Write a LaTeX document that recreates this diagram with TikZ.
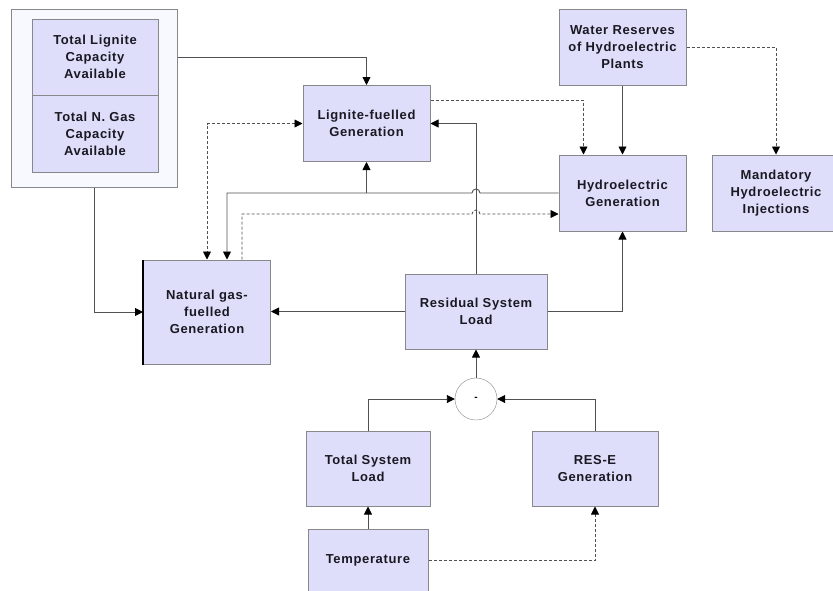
\documentclass[tikz,border=0pt]{standalone}
\usepackage{fontspec}
\setmainfont{Liberation Sans}[LetterSpace=5]
\usetikzlibrary{arrows.meta,calc}

\definecolor{boxfill}{RGB}{222,222,250}
\definecolor{capfill}{RGB}{248,248,255}
\definecolor{boxline}{RGB}{135,135,140}
\definecolor{wire}{RGB}{80,80,85}
\definecolor{txt}{RGB}{25,25,35}

\begin{document}
\begin{tikzpicture}[
    x=1pt, y=1pt,
    block/.style={rectangle, draw=boxline, line width=1pt, fill=boxfill, minimum width=127pt, minimum height=76pt, align=center, inner sep=2pt, text=txt, font=\bfseries\fontsize{13}{17}\selectfont},
    arrow/.style={-{Triangle[length=8pt, width=8pt, color=black]}, draw=wire, line width=0.9pt},
    dasharrow/.style={arrow, dash pattern=on 3pt off 2pt},
    line/.style={draw=wire, line width=0.9pt},
]
\useasboundingbox (0,0) rectangle (833,-590);

% ================== Capacities ==================
\node[block, fill=capfill, minimum width=166pt, minimum height=178pt] (cap) at (94,-98) {};
\node[block, minimum width=126pt, minimum height=76pt] (ligcap) at (95,-57) {Total Lignite\\Capacity\\Available};
\node[block, minimum width=126pt, minimum height=77pt] (gascap) at (95,-133.5) {Total N. Gas\\Capacity\\Available};

% ================== Generation ==================
\node[block] (lignite) at (366.5,-123.5) {Lignite-fuelled\\Generation};
\node[block, minimum height=104pt] (natgas) at (207,-312) {Natural gas-\\fuelled\\Generation};
\draw[line width=2pt, black] (natgas.north west) -- (natgas.south west);
\node[block] (water) at (622.5,-47.5) {Water Reserves\\of Hydroelectric\\Plants};
\node[block] (hydro) at (622.5,-193) {Hydroelectric\\Generation};
\node[block, minimum width=128pt] (mand) at (776,-193) {Mandatory\\Hydroelectric\\Injections};

% ================== Load ==================
\node[block, minimum width=142pt, minimum height=75pt] (resid) at (476,-311.5) {Residual System\\Load};
\node[circle, draw=boxline, fill=white, minimum size=42pt, inner sep=0pt, font=\bfseries] (minus) at (476,-399) {-};
\node[block, minimum width=124pt, minimum height=75pt] (tsl) at (368,-468.5) {Total System\\Load};
\node[block, minimum width=126pt, minimum height=75pt] (rese) at (595,-468.5) {RES-E\\Generation};
\node[block, minimum width=120pt, minimum height=63pt] (temp) at (368,-560.5) {Temperature};

% Capacities to generation
\draw[arrow] (cap.east |- ligcap.center) -| (lignite.north);
\draw[arrow] (cap.south) |- (natgas.west);

% Residual load to generation
\draw[arrow] (resid.west) -- (resid.west -| natgas.east);
\draw[arrow] (resid.north) |- (lignite.east);
\draw[arrow] (resid.east) -| (hydro.south);

% Hydro to thermal, with a jump over the residual line
\draw[arrow] (hydro.west) -- ([xshift=4pt]resid.north |- hydro.west)
    arc[start angle=0, end angle=180, radius=4pt] -| ([xshift=20pt]natgas.north);
\draw[arrow] (lignite.south |- hydro.west) -- (lignite.south);
\coordinate (hB) at ([yshift=-21pt]hydro.west);
\draw[dasharrow] ([xshift=35pt]natgas.north) |- ([xshift=-4pt]resid.north |- hB)
    arc[start angle=180, end angle=0, radius=4pt] -- (hB);

% Thermal links
\draw[dasharrow, {Triangle[length=8pt, width=8pt, color=black]}-{Triangle[length=8pt, width=8pt, color=black]}] (lignite.west) -| (natgas.north);
\draw[dasharrow] ([yshift=23pt]lignite.east) -| ([xshift=-39pt]hydro.north);

% Water reserves
\draw[arrow] (water.south) -- (hydro.north);
\draw[dasharrow] (water.east) -| (mand.north);

% Load balance
\draw[arrow] (tsl.north) |- (minus.west);
\draw[arrow] (rese.north) |- (minus.east);
\draw[arrow] (minus.north) -- (resid.south);
\draw[arrow] (temp.north) -- (tsl.south);
\draw[dasharrow] (temp.east) -| (rese.south);

\end{tikzpicture}
\end{document}
